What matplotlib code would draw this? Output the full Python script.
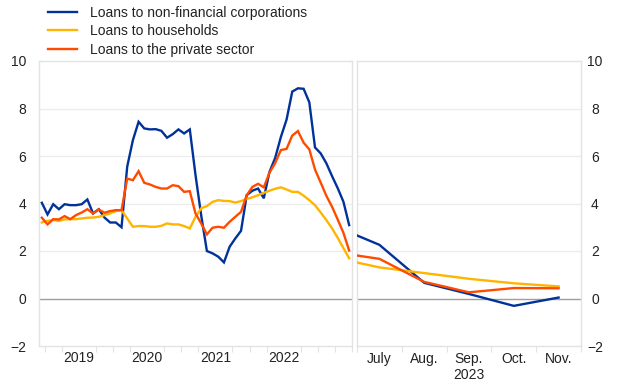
import matplotlib
matplotlib.use("Agg")
import matplotlib.pyplot as plt
import numpy as np

plt.rcParams['font.family'] = ['Liberation Sans', 'DejaVu Sans']

# Monthly data Dec 2018 .. Jun 2023 (index 0..54)
nfc = [4.03, 3.54, 3.97, 3.76, 3.97, 3.93, 3.93, 3.97, 4.17, 3.58,
       3.76, 3.41, 3.20, 3.20, 3.00, 5.55, 6.67, 7.44, 7.16, 7.12,
       7.13, 7.06, 6.77, 6.92, 7.12, 6.95, 7.12, 5.20, 3.50, 2.00,
       1.90, 1.76, 1.52, 2.18, 2.53, 2.85, 4.35, 4.54, 4.63, 4.22,
       5.33, 5.92, 6.80, 7.53, 8.71, 8.85, 8.83, 8.26, 6.36, 6.11,
       5.69, 5.15, 4.64, 4.07, 3.09]
households = [3.20, 3.27, 3.30, 3.27, 3.33, 3.34, 3.34, 3.37, 3.40, 3.41,
              3.44, 3.51, 3.58, 3.68, 3.72, 3.37, 3.02, 3.05, 3.05, 3.02,
              3.02, 3.06, 3.16, 3.12, 3.12, 3.05, 2.95, 3.44, 3.80, 3.89,
              4.07, 4.14, 4.11, 4.10, 4.04, 4.10, 4.19, 4.26, 4.35, 4.45,
              4.54, 4.62, 4.68, 4.59, 4.49, 4.49, 4.33, 4.14, 3.93, 3.62,
              3.30, 2.95, 2.55, 2.12, 1.69]
private = [3.40, 3.12, 3.34, 3.33, 3.47, 3.34, 3.51, 3.62, 3.76, 3.58,
           3.75, 3.61, 3.68, 3.72, 3.72, 5.05, 4.98, 5.36, 4.87, 4.80,
           4.70, 4.63, 4.63, 4.77, 4.73, 4.49, 4.52, 3.58, 3.16, 2.70,
           2.98, 3.02, 2.98, 3.23, 3.44, 3.65, 4.35, 4.70, 4.83, 4.68,
           5.30, 5.70, 6.25, 6.30, 6.86, 7.05, 6.56, 6.28, 5.43, 4.88,
           4.32, 3.86, 3.32, 2.76, 2.02]
year_labels = ['2019', '2020', '2021', '2022']

# Monthly data Jun 2023 .. Nov 2023
months = ['June', 'July', 'Aug.', 'Sep.', 'Oct.', 'Nov.']
nfc_r = [3.05, 2.26, 0.66, 0.19, -0.31, 0.04]
households_r = [1.72, 1.31, 1.07, 0.83, 0.64, 0.51]
private_r = [1.95, 1.67, 0.70, 0.26, 0.44, 0.43]

labels = ['Loans to non-financial corporations', 'Loans to households',
          'Loans to the private sector']
colors = ['#003299', '#ffb400', '#ff4b00']

W, H = 620, 387
fig = plt.figure(figsize=(6.2, 3.87), dpi=100)

def px_axes(x0, x1, ytop, ybot):
    return fig.add_axes([x0 / W, 1 - ybot / H, (x1 - x0) / W, (ybot - ytop) / H])

axL = px_axes(39, 352, 61, 346)
axR = px_axes(357, 581, 61, 346)

frame_col = '#e3e3e3'
grid_col = '#ededed'
text_col = '#222222'
fs = 10

for ax in (axL, axR):
    ax.set_ylim(-2, 10)
    ax.set_yticks(np.arange(-2, 11, 2))
    for y in [2, 4, 6, 8]:
        ax.axhline(y, color=grid_col, lw=1.0, zorder=0)
    ax.axhline(0, color='#9e9e9e', lw=1.0, zorder=1)
    for s in ax.spines.values():
        s.set_color(frame_col)
        s.set_linewidth(1.0)
    ax.tick_params(axis='both', colors=text_col, labelsize=fs, length=0)
    ax.tick_params(axis='x', which='minor', length=4, color=frame_col, width=0.8)

# Left panel
x = np.arange(len(nfc))
series = [nfc, households, private]
lines = []
for s, c, lab in zip(series, colors, labels):
    ln, = axL.plot(x, s, color=c, lw=1.7, label=lab, zorder=3, solid_joinstyle='miter')
    lines.append(ln)
axL.set_xlim(-0.5, 54.5)
axL.set_xticks([6.5, 18.5, 30.5, 42.5])
axL.set_xticklabels(year_labels)
axL.set_xticks(np.arange(0.5, 55, 3), minor=True)
axL.tick_params(axis='y', pad=9)
axL.tick_params(axis='x', pad=3.5)

# Right panel
xr = np.arange(len(months))
for s, c in zip([nfc_r, households_r, private_r], colors):
    axR.plot(xr, s, color=c, lw=1.7, zorder=3)
axR.set_xlim(0.5, 5.5)
axR.set_xticks(xr[1:])
axR.set_xticklabels(months[1:])
axR.set_xticks(np.arange(0.5, 5.6, 1), minor=True)
axR.yaxis.tick_right()
axR.tick_params(axis='y', pad=10, labelright=True, labelleft=False)
for t in axR.get_yticklabels():
    t.set_horizontalalignment('center')
axR.tick_params(axis='x', pad=4.5)
axR.text(0.5, -(375 - 346) / 285, '2023', transform=axR.transAxes, ha='center',
         va='center', fontsize=fs, color=text_col)

fig.legend(handles=lines, labels=labels, loc='upper left',
           bbox_to_anchor=(48 / W, 1 - 5.5 / H), frameon=False, fontsize=fs,
           handlelength=2.1, handletextpad=0.95, labelspacing=0.33,
           borderpad=0, borderaxespad=0, labelcolor=text_col)

fig.savefig('out.png', dpi=100)
